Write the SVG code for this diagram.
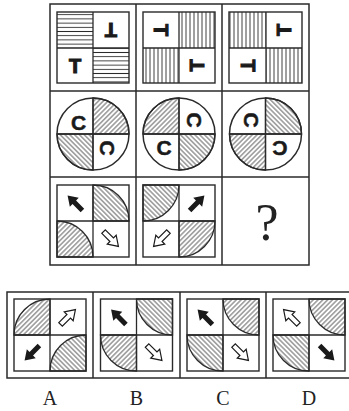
<svg xmlns="http://www.w3.org/2000/svg" width="349" height="411" viewBox="0 0 349 411">
<style>
.bg{fill:#fff}
.frame{fill:none;stroke:#2a2a2a;stroke-width:1.5}
.sq{fill:none;stroke:#2a2a2a;stroke-width:1.4}
.ln{stroke:#2a2a2a;stroke-width:1.3}
.t{font-family:"Liberation Sans",Arial,sans-serif;font-weight:bold;font-size:20px;fill:#1a1a1a;stroke:#1a1a1a;stroke-width:1.1;text-anchor:middle}
.c{font-family:"Liberation Sans",Arial,sans-serif;font-weight:bold;font-size:21px;fill:#1a1a1a;stroke:#1a1a1a;stroke-width:0.5;text-anchor:middle}
.lab{font-family:"Liberation Serif","Times New Roman",serif;font-size:20px;fill:#222;text-anchor:middle}
.q{font-family:"Liberation Serif","Times New Roman",serif;font-size:52px;fill:#222;text-anchor:middle}
.hz{fill:url(#hz)}
.vt{fill:url(#vt)}
.fs{fill:url(#fs);stroke:#2a2a2a;stroke-width:1.3}
.bs{fill:url(#bs);stroke:#2a2a2a;stroke-width:1.3}
.ab{fill:#1a1a1a}
.aw{fill:#fff;stroke:#1a1a1a;stroke-width:1.2;stroke-linejoin:miter}
.circ{fill:none;stroke:#2a2a2a;stroke-width:1.5}
</style>
<defs>
<pattern id="hz" patternUnits="userSpaceOnUse" width="10" height="4.2"><line x1="0" y1="2.1" x2="10" y2="2.1" stroke="#2a2a2a" stroke-width="0.9"/></pattern>
<pattern id="vt" patternUnits="userSpaceOnUse" width="4" height="10"><line x1="2" y1="0" x2="2" y2="10" stroke="#2a2a2a" stroke-width="0.9"/></pattern>
<pattern id="fs" patternUnits="userSpaceOnUse" width="3.4" height="10" patternTransform="rotate(45)"><line x1="1.7" y1="0" x2="1.7" y2="10" stroke="#2a2a2a" stroke-width="0.8"/></pattern>
<pattern id="bs" patternUnits="userSpaceOnUse" width="3.4" height="10" patternTransform="rotate(-45)"><line x1="1.7" y1="0" x2="1.7" y2="10" stroke="#2a2a2a" stroke-width="0.8"/></pattern>
<path id="arr" d="M-10.5,-2.5 L1,-2.5 L1,-6.3 L10.5,0 L1,6.3 L1,2.5 L-10.5,2.5 Z"/>
</defs>
<rect class="bg" x="0" y="0" width="349" height="411"/>

<g id="grid">
<rect class="frame" x="50" y="4" width="259" height="261"/>
<line class="frame" x1="136" y1="4" x2="136" y2="265"/>
<line class="frame" x1="222" y1="4" x2="222" y2="265"/>
<line class="frame" x1="50" y1="91" x2="309" y2="91"/>
<line class="frame" x1="50" y1="177" x2="309" y2="177"/>
</g>

<!-- Row 1 -->
<g id="r1c1">
<rect class="hz" x="57" y="12" width="36" height="36"/>
<rect class="hz" x="93" y="48" width="36" height="35"/>
<rect class="sq" x="57" y="12" width="72" height="71"/>
<line class="ln" x1="93" y1="12" x2="93" y2="83"/>
<line class="ln" x1="57" y1="48" x2="129" y2="48"/>
<text class="t" transform="translate(111,30) rotate(180)" y="7">T</text>
<text class="t" transform="translate(75,65.5)" y="7">T</text>
</g>
<g id="r1c2">
<rect class="vt" x="179" y="12" width="36" height="36"/>
<rect class="vt" x="143" y="48" width="36" height="35"/>
<rect class="sq" x="143" y="12" width="72" height="71"/>
<line class="ln" x1="179" y1="12" x2="179" y2="83"/>
<line class="ln" x1="143" y1="48" x2="215" y2="48"/>
<text class="t" transform="translate(161,30) rotate(90)" y="7">T</text>
<text class="t" transform="translate(197,65.5) rotate(-90)" y="7">T</text>
</g>
<g id="r1c3">
<rect class="vt" x="229" y="12" width="37" height="36"/>
<rect class="vt" x="266" y="48" width="36" height="35"/>
<rect class="sq" x="229" y="12" width="73" height="71"/>
<line class="ln" x1="266" y1="12" x2="266" y2="83"/>
<line class="ln" x1="229" y1="48" x2="302" y2="48"/>
<text class="t" transform="translate(284,30) rotate(-90)" y="7">T</text>
<text class="t" transform="translate(247.5,65.5) rotate(90)" y="7">T</text>
</g>

<!-- Row 2 -->
<g id="r2c1">
<path class="fs" d="M93,134 L93,98 A36,36 0 0 1 129,134 Z"/>
<path class="bs" d="M93,134 L93,170 A36,36 0 0 1 57,134 Z"/>
<circle class="circ" cx="93" cy="134" r="36"/>
<line class="ln" x1="57" y1="134" x2="129" y2="134"/>
<line class="ln" x1="93" y1="98" x2="93" y2="170"/>
<text class="c" transform="translate(78.5,122)" y="7.5">C</text>
<text class="c" transform="translate(107,148) rotate(90)" y="7.5">C</text>
</g>
<g id="r2c2">
<path class="fs" d="M179,134 L143,134 A36,36 0 0 1 179,98 Z"/>
<path class="bs" d="M179,134 L215,134 A36,36 0 0 1 179,170 Z"/>
<circle class="circ" cx="179" cy="134" r="36"/>
<line class="ln" x1="143" y1="134" x2="215" y2="134"/>
<line class="ln" x1="179" y1="98" x2="179" y2="170"/>
<text class="c" transform="translate(194,120) rotate(90)" y="7.5">C</text>
<text class="c" transform="translate(164,147)" y="7.5">C</text>
</g>
<g id="r2c3">
<path class="bs" d="M265.5,134 L265.5,98 A36,36 0 0 1 301.5,134 Z"/>
<path class="fs" d="M265.5,134 L265.5,170 A36,36 0 0 1 229.5,134 Z"/>
<circle class="circ" cx="265.5" cy="134" r="36"/>
<line class="ln" x1="229.5" y1="134" x2="301.5" y2="134"/>
<line class="ln" x1="265.5" y1="98" x2="265.5" y2="170"/>
<text class="c" transform="translate(251,120) rotate(90)" y="7.5">C</text>
<text class="c" transform="translate(280,148) rotate(180)" y="7.5">C</text>
</g>

<!-- Row 3 -->
<g id="r3c1">
<path class="bs" d="M93,221 L93,185 A36,36 0 0 1 129,221 Z"/>
<path class="fs" d="M57,257 L57,221 A36,36 0 0 1 93,257 Z"/>
<rect class="sq" x="57" y="185" width="72" height="72"/>
<line class="ln" x1="93" y1="185" x2="93" y2="257"/>
<line class="ln" x1="57" y1="221" x2="129" y2="221"/>
<use href="#arr" class="ab" transform="translate(75,203) rotate(-135)"/>
<use href="#arr" class="aw" transform="translate(111,239) rotate(45)"/>
</g>
<g id="r3c2">
<path class="bs" d="M143,185 L179,185 A36,36 0 0 1 143,221 Z"/>
<path class="fs" d="M179,221 L215,221 A36,36 0 0 1 179,257 Z"/>
<rect class="sq" x="143" y="185" width="72" height="72"/>
<line class="ln" x1="179" y1="185" x2="179" y2="257"/>
<line class="ln" x1="143" y1="221" x2="215" y2="221"/>
<use href="#arr" class="ab" transform="translate(197,203) rotate(-45)"/>
<use href="#arr" class="aw" transform="translate(161,239) rotate(135)"/>
</g>
<g id="r3c3">
<text class="q" x="267" y="240">?</text>
</g>

<!-- Options -->
<g id="options-frame">
<rect class="frame" x="7" y="292" width="345" height="86"/>
<line class="frame" x1="93" y1="292" x2="93" y2="378"/>
<line class="frame" x1="180" y1="292" x2="180" y2="378"/>
<line class="frame" x1="266" y1="292" x2="266" y2="378"/>
</g>
<g id="optA">
<path class="fs" d="M50,335 L14,335 A36,36 0 0 1 50,299 Z"/>
<path class="bs" d="M86,371 L50,371 A36,36 0 0 1 86,335 Z"/>
<rect class="sq" x="14" y="299" width="72" height="72"/>
<line class="ln" x1="50" y1="299" x2="50" y2="371"/>
<line class="ln" x1="14" y1="335" x2="86" y2="335"/>
<use href="#arr" class="aw" transform="translate(68,317) rotate(-45)"/>
<use href="#arr" class="ab" transform="translate(32,353) rotate(135)"/>
<text class="lab" x="50" y="405">A</text>
</g>
<g id="optB">
<path class="bs" d="M172.5,299 L172.5,335 A36,36 0 0 1 136.5,299 Z"/>
<path class="fs" d="M136.5,335 L136.5,371 A36,36 0 0 1 100.5,335 Z"/>
<rect class="sq" x="100.5" y="299" width="72" height="72"/>
<line class="ln" x1="136.5" y1="299" x2="136.5" y2="371"/>
<line class="ln" x1="100.5" y1="335" x2="172.5" y2="335"/>
<use href="#arr" class="ab" transform="translate(118.5,317) rotate(-135)"/>
<use href="#arr" class="aw" transform="translate(154.5,353) rotate(45)"/>
<text class="lab" x="136.5" y="405">B</text>
</g>
<g id="optC">
<path class="fs" d="M259,299 L259,335 A36,36 0 0 1 223,299 Z"/>
<path class="bs" d="M223,335 L223,371 A36,36 0 0 1 187,335 Z"/>
<rect class="sq" x="187" y="299" width="72" height="72"/>
<line class="ln" x1="223" y1="299" x2="223" y2="371"/>
<line class="ln" x1="187" y1="335" x2="259" y2="335"/>
<use href="#arr" class="ab" transform="translate(205,317) rotate(-135)"/>
<use href="#arr" class="aw" transform="translate(241,353) rotate(45)"/>
<text class="lab" x="223" y="405">C</text>
</g>
<g id="optD">
<path class="fs" d="M345,299 L345,335 A36,36 0 0 1 309,299 Z"/>
<path class="bs" d="M309,335 L309,371 A36,36 0 0 1 273,335 Z"/>
<rect class="sq" x="273" y="299" width="72" height="72"/>
<line class="ln" x1="309" y1="299" x2="309" y2="371"/>
<line class="ln" x1="273" y1="335" x2="345" y2="335"/>
<use href="#arr" class="aw" transform="translate(291,317) rotate(-135)"/>
<use href="#arr" class="ab" transform="translate(327,353) rotate(45)"/>
<text class="lab" x="309" y="405">D</text>
</g>
</svg>
